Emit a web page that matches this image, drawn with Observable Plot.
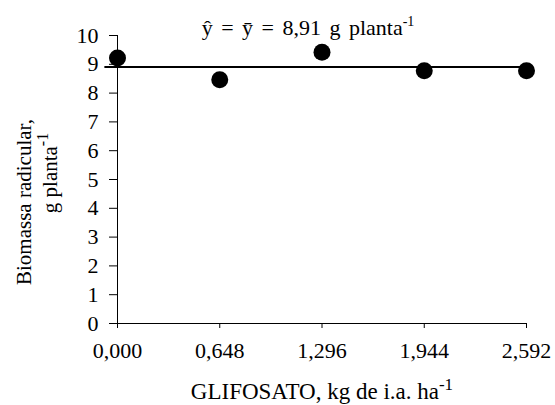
<!DOCTYPE html>
<html>
<head>
<meta charset="utf-8">
<script src="https://cdn.jsdelivr.net/npm/d3@7"></script>
<script src="https://cdn.jsdelivr.net/npm/@observablehq/plot@0.6"></script>
<style>
  html, body { margin: 0; padding: 0; background: #fff; }
  #chart { width: 555px; height: 405px; }
</style>
</head>
<body>
<div id="chart"></div>
<script>
// Data
const doses = [0.000, 0.648, 1.296, 1.944, 2.592];
const biomassa = [9.22, 8.46, 9.42, 8.78, 8.78];
const media = 8.91;
const xTicks = [0.000, 0.648, 1.296, 1.944, 2.592];
const yTicks = [0, 1, 2, 3, 4, 5, 6, 7, 8, 9, 10];

const pts = doses.map((d, i) => ({x: d, y: biomassa[i]}));
const fmt = v => v.toFixed(3).replace(".", ",");
const serif = "Liberation Serif, DejaVu Serif, serif";

const plot = Plot.plot({
  width: 555,
  height: 405,
  marginLeft: 117,
  marginRight: 29,
  marginTop: 35,
  marginBottom: 82,
  style: {fontFamily: serif, fontSize: "22px", background: "#fff", color: "#000", overflow: "visible"},
  x: {domain: [0, 2.592]},
  y: {domain: [0, 10]},
  marks: [
    Plot.axisY({ticks: yTicks, tickSize: 8, tickPadding: 11, label: null, tickFormat: d => String(d), fontSize: 22, fontFamily: serif}),
    Plot.axisX({ticks: xTicks, tickSize: 5, tickPadding: 14, label: null, tickFormat: fmt, fontSize: 22, fontFamily: serif}),
    Plot.ruleX([0], {y1: 0, y2: 10, stroke: "#000", strokeWidth: 1}),
    Plot.ruleY([0], {x1: -0.05, x2: 2.592, stroke: "#000", strokeWidth: 1}),
    Plot.ruleY([media], {x1: -0.08, x2: 2.592, stroke: "#000", strokeWidth: 2}),
    Plot.dot(pts, {x: "x", y: "y", r: 8.5, fill: "#000", stroke: null})
  ]
});
document.getElementById("chart").appendChild(plot);

const svg = d3.select(plot);

// Equation annotation
const eq = svg.append("text")
  .attr("x", 308).attr("y", 35)
  .attr("text-anchor", "middle")
  .attr("font-family", serif).attr("font-size", 22).attr("fill", "#000")
  .attr("word-spacing", "3px");
eq.append("tspan").text("y\u0302 = y\u0304 = 8,91 g planta");
eq.append("tspan").attr("font-size", 14).attr("dy", -9).text("-1");

// Y axis title (two lines)
svg.append("text")
  .attr("transform", "translate(31,202) rotate(-90)")
  .attr("text-anchor", "middle")
  .attr("font-family", serif).attr("font-size", 21).attr("fill", "#000")
  .text("Biomassa radicular,");
const yt2 = svg.append("text")
  .attr("transform", "translate(57,173) rotate(-90)")
  .attr("text-anchor", "middle")
  .attr("font-family", serif).attr("font-size", 21).attr("fill", "#000");
yt2.append("tspan").text("g planta");
yt2.append("tspan").attr("font-size", 16).attr("dy", -9).text("-1");

// X axis title
const xt = svg.append("text")
  .attr("x", 322).attr("y", 399)
  .attr("text-anchor", "middle")
  .attr("font-family", serif).attr("font-size", 23).attr("fill", "#000");
xt.append("tspan").text("GLIFOSATO, kg de i.a. ha");
xt.append("tspan").attr("font-size", 17).attr("dy", -9).text("-1");
</script>
</body>
</html>
